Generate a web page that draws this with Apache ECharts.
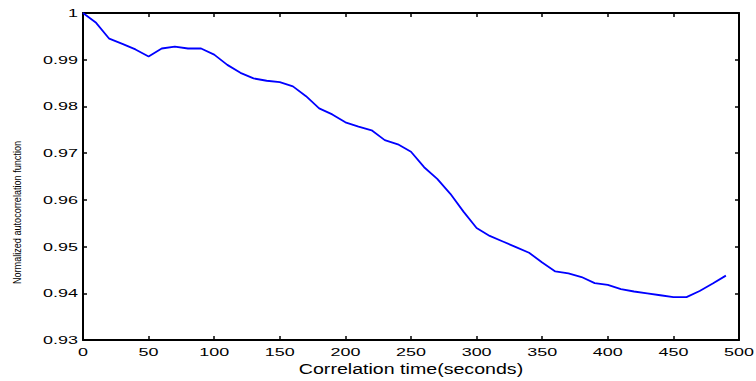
<!DOCTYPE html>
<html><head><meta charset="utf-8">
<script src="https://cdn.jsdelivr.net/npm/echarts@6/dist/echarts.min.js"></script>
<style>html,body{margin:0;padding:0;background:#fff}#chart{width:756px;height:381px}</style>
</head><body><div id="chart"></div>
<script>
const times = [0,10,20,30,40,50,60,70,80,90,100,110,120,130,140,150,160,170,180,190,200,210,220,230,240,250,260,270,280,290,300,310,320,330,340,350,360,370,380,390,400,410,420,430,440,450,460,470,480,490];
const acf = [1.0,0.9979,0.9945,0.9934,0.9922,0.9907,0.9924,0.9928,0.9924,0.9924,0.9911,0.9889,0.9872,0.9860,0.9855,0.9852,0.9843,0.9822,0.9796,0.9783,0.9766,0.9757,0.9749,0.9728,0.9719,0.9703,0.9670,0.9645,0.9613,0.9575,0.9540,0.9523,0.9511,0.9499,0.9487,0.9466,0.9447,0.9443,0.9435,0.9422,0.9418,0.9409,0.9404,0.9400,0.9396,0.9392,0.9392,0.9405,0.9421,0.9438];
const xLabel = 'Correlation time(seconds)';
const yLabel = 'Normalized autocorrelation function';

const chart = echarts.init(document.getElementById('chart'), null, {renderer: 'svg'});
const axisLine = {show: true, onZero: false, lineStyle: {color: '#000', width: 2}};
const axisTick = {show: true, inside: true, length: 4, lineStyle: {color: '#000', width: 1.5}};
const FONT = 'Liberation Sans, Arial, sans-serif';
const lblFont = {color: '#000', fontFamily: FONT, fontSize: 11};
chart.setOption({
  animation: false,
  backgroundColor: '#fff',
  grid: {left: 83, right: 17, top: 13, bottom: 39, containLabel: false},
  xAxis: [{
    type: 'value', min: 0, max: 500, interval: 50, position: 'bottom',
    axisLine, axisTick, splitLine: {show: false},
    axisLabel: Object.assign({margin: 6}, lblFont),
    name: xLabel, nameLocation: 'middle', nameGap: 21,
    nameTextStyle: {color: '#000', fontFamily: FONT, fontSize: 14}
  }, {
    type: 'value', min: 0, max: 500, interval: 50, position: 'top',
    axisLine, axisTick, splitLine: {show: false}, axisLabel: {show: false}
  }],
  yAxis: [{
    type: 'value', min: 0.93, max: 1, interval: 0.01, position: 'left',
    axisLine, axisTick, splitLine: {show: false},
    axisLabel: Object.assign({margin: 5}, lblFont),
    name: yLabel, nameLocation: 'middle', nameGap: 61,
    nameTextStyle: {color: '#000', fontFamily: FONT, fontSize: 10, padding: [0, 72, 0, 0]}
  }, {
    type: 'value', min: 0.93, max: 1, interval: 0.01, position: 'right',
    axisLine, axisTick, splitLine: {show: false}, axisLabel: {show: false}
  }],
  series: [{
    type: 'line', xAxisIndex: 0, yAxisIndex: 0,
    data: times.map((t, i) => [t, acf[i]]),
    showSymbol: false, symbol: 'none',
    lineStyle: {color: '#0000ff', width: 1.8},
    itemStyle: {color: '#0000ff'}
  }]
});
function stretch() {
  document.querySelectorAll('#chart text').forEach(t => {
    if (t.dataset.stretched) return;
    const fs = parseFloat(getComputedStyle(t).fontSize);
    let f = 0;
    if (fs === 11) f = 1.63;
    else if (fs === 14) f = 1.4;
    else if (fs === 10) f = 0.91;
    if (!f) return;
    const w = t.getComputedTextLength();
    if (!w) return;
    t.setAttribute('textLength', (w * f).toFixed(2));
    t.setAttribute('lengthAdjust', 'spacingAndGlyphs');
    t.dataset.stretched = '1';
  });
}
stretch();
chart.on('finished', stretch);
requestAnimationFrame(stretch);
setTimeout(stretch, 50);
</script></body></html>
